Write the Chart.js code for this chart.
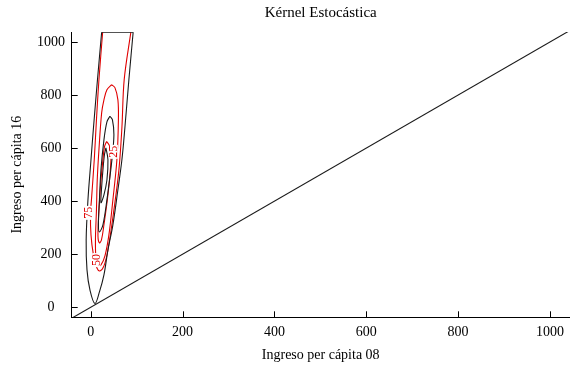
<!DOCTYPE html>
<html>
<head>
<meta charset="utf-8">
<script src="https://cdn.jsdelivr.net/npm/chart.js@4"></script>
<style>
	body { margin: 0; background: #fff; }
	canvas { display: block; }
</style>
</head>
<body>
<canvas id="kernelChart" width="571" height="370"></canvas>
<script>
// Tick labels
const xTicks = [0, 200, 400, 600, 800, 1000];
const yTicks = [0, 200, 400, 600, 800, 1000];

// Contours, [ingreso 08, ingreso 16]
// the two outer ones are cut by the top of the grid
const blackOuter = [[23.9,1037],[14.8,858],[6.1,677],[0.7,556],[-5.9,405],[-9.8,254],[-8.0,141],[-1.5,65],[9.3,14],
	[19.1,58],[28.9,122],[37.6,216],[48.4,311],[59.3,443],[68.0,556],[74.5,677],[83.2,858],[92.5,1037]];
const blackOuterTop = [[23.9,1037],[92.5,1037]];
const blackMid = [[41.9,720],[47.3,707],[50.6,650],[46.3,556],[35.4,405],[26.7,311],[19.1,284],
	[16.9,311],[19.1,405],[22.4,518],[28.9,631],[35.4,699],[41.9,720]];
const blackInner = [[33.2,601],[37.6,556],[35.4,480],[28.9,424],[22.4,394],[23.5,443],[26.7,518],[30.0,575],[33.2,601]];
const redOuter = [[26.1,1037],[18.0,858],[12.6,707],[7.8,556],[1.7,405],[-0.4,356],[0.7,273],[6.1,197],[13.7,148],[20.2,137],
	[28.9,156],[37.6,216],[50.6,367],[61.5,518],[68.0,677],[73.0,858],[87.5,1037]];
const redMid = [[45.6,839],[52.8,828],[59.3,782],[60.4,707],[57.1,556],[48.4,405],[39.7,273],[31.1,194],[22.4,160],[15.9,156],
	[11.5,186],[10.4,254],[12.6,367],[14.3,480],[18.0,594],[23.9,733],[28.9,782],[35.4,820],[45.6,839]];
const redInner = [[34.7,625],[40.8,609],[44.1,556],[37.6,424],[28.9,311],[23.5,254],[19.1,243],
	[15.9,269],[18.0,367],[22.4,480],[26.7,556],[30.0,605],[34.7,625]];
const diagonal = [[-45,-45],[1045,1045]];

// Contour level labels
const levelLabels = ['75', '50', '25'];
const levelX = [-3.7, 12.6, 50.6];
const levelY = [356, 178, 586];

const toPoints = arr => arr.map(p => ({ x: p[0], y: p[1] }));

function contour(points, color, tension) {
	return {
		data: toPoints(points),
		showLine: true,
		borderColor: color,
		borderWidth: 1.1,
		pointRadius: 0,
		tension: tension === undefined ? 0.35 : tension,
		fill: false
	};
}

const decor = {
	id: 'decor',
	afterDatasetsDraw(chart) {
		const ctx = chart.ctx;
		const xs = chart.scales.x, ys = chart.scales.y;
		const area = chart.chartArea;
		ctx.save();
		// inward tick marks
		ctx.strokeStyle = '#000';
		ctx.lineWidth = 1;
		ctx.beginPath();
		xTicks.forEach(v => {
			const px = Math.round(xs.getPixelForValue(v)) + 0.5;
			ctx.moveTo(px, area.bottom);
			ctx.lineTo(px, area.bottom - 6);
		});
		yTicks.forEach(v => {
			const py = Math.round(ys.getPixelForValue(v)) + 0.5;
			ctx.moveTo(area.left, py);
			ctx.lineTo(area.left + 6, py);
		});
		ctx.stroke();
		// level labels
		ctx.font = '12px "Liberation Serif"';
		ctx.textAlign = 'center';
		ctx.textBaseline = 'middle';
		levelLabels.forEach((t, i) => {
			const px = xs.getPixelForValue(levelX[i]);
			const py = ys.getPixelForValue(levelY[i]);
			ctx.save();
			ctx.translate(px, py);
			ctx.rotate(-Math.PI / 2);
			const w = ctx.measureText(t).width;
			ctx.fillStyle = '#fff';
			ctx.fillRect(-w / 2 - 1, -4, w + 2, 8);
			ctx.fillStyle = '#e00000';
			ctx.fillText(t, 0, 0);
			ctx.restore();
		});
		ctx.restore();
	}
};

const serif = '"Liberation Serif", "Times New Roman", serif';

new Chart(document.getElementById('kernelChart').getContext('2d'), {
	type: 'scatter',
	data: {
		datasets: [
			contour(blackOuter, '#1a1a1a'),
			contour(blackOuterTop, '#1a1a1a', 0),
			contour(redOuter, '#e00000'),
			contour(redMid, '#e00000'),
			contour(blackMid, '#1a1a1a'),
			contour(redInner, '#e00000'),
			contour(blackInner, '#1a1a1a'),
			contour(diagonal, '#1a1a1a', 0)
		]
	},
	options: {
		responsive: false,
		animation: false,
		devicePixelRatio: 1,
		layout: { padding: 0 },
		plugins: {
			legend: { display: false },
			tooltip: { enabled: false },
			title: {
				display: true,
				text: 'Kérnel Estocástica',
				fullSize: false,
				color: '#000',
				font: { family: serif, size: 15, weight: 'normal' },
				padding: { top: 4, bottom: 10 }
			}
		},
		scales: {
			x: {
				type: 'linear',
				min: -41.3,
				max: 1043,
				afterBuildTicks: s => { s.ticks = xTicks.map(v => ({ value: v })); },
				afterFit: s => { s.height = 52.7; },
				grid: { display: false, drawTicks: false },
				border: { display: true, color: '#000', width: 1 },
				ticks: { color: '#000', padding: 7, maxRotation: 0, callback: v => String(v), font: { family: serif, size: 14 } },
				title: {
					display: true,
					text: 'Ingreso per cápita 08',
					color: '#000',
					font: { family: serif, size: 14 },
					padding: { top: 0, bottom: 6.6 }
				}
			},
			y: {
				type: 'linear',
				min: -37.7,
				max: 1037.7,
				afterBuildTicks: s => { s.ticks = yTicks.map(v => ({ value: v })); },
				afterFit: s => { s.width = 71.7; },
				grid: { display: false, drawTicks: false },
				border: { display: true, color: '#000', width: 1 },
				ticks: { color: '#000', padding: 6.7, crossAlign: 'center', callback: v => String(v), font: { family: serif, size: 14 } },
				title: {
					display: true,
					text: 'Ingreso per cápita 16',
					color: '#000',
					font: { family: serif, size: 14 },
					padding: { top: 8.6, bottom: 0 }
				}
			}
		}
	},
	plugins: [decor]
});
</script>
</body>
</html>
